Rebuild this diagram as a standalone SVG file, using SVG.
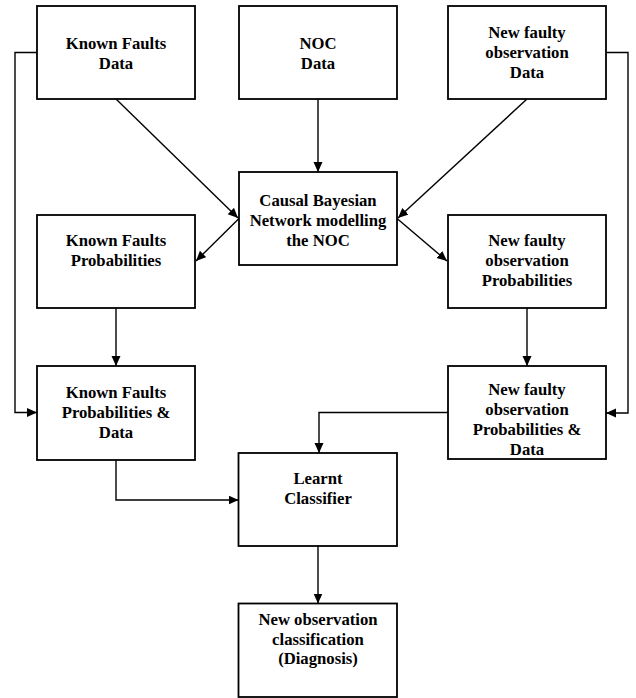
<svg xmlns="http://www.w3.org/2000/svg" width="636" height="698" viewBox="0 0 636 698">
<style>
.box{fill:#fff;stroke:#000;stroke-width:1.8}
.lbl{font-family:"Liberation Serif","Times New Roman",serif;font-weight:bold;font-size:16.7px;fill:#000;text-anchor:middle}
.con{fill:none;stroke:#000;stroke-width:1.4}
</style>
<defs>
<marker id="ah" markerUnits="userSpaceOnUse" markerWidth="11" markerHeight="10" refX="10" refY="4.5" orient="auto">
<path d="M0,0 L10,4.5 L0,9 z" fill="#000"/>
</marker>
</defs>
<rect width="636" height="698" fill="#fff"/>
<g id="connectors">
<path class="con" d="M116,99 L238,218" marker-end="url(#ah)"/>
<path class="con" d="M318,99 L318,172" marker-end="url(#ah)"/>
<path class="con" d="M527,99 L398,218" marker-end="url(#ah)"/>
<path class="con" d="M239,218.5 L196,261" marker-end="url(#ah)"/>
<path class="con" d="M397,218.5 L447,261" marker-end="url(#ah)"/>
<path class="con" d="M116,308 L116,366" marker-end="url(#ah)"/>
<path class="con" d="M527,308 L527,366" marker-end="url(#ah)"/>
<path class="con" d="M37,52.5 L15,52.5 L15,412.5 L37,412.5" marker-end="url(#ah)"/>
<path class="con" d="M606,52.5 L628,52.5 L628,413 L606,413" marker-end="url(#ah)"/>
<path class="con" d="M448,412.5 L319,412.5 L319,453" marker-end="url(#ah)"/>
<path class="con" d="M116,460 L116,500 L238.5,500" marker-end="url(#ah)"/>
<path class="con" d="M318,546 L318,603.5" marker-end="url(#ah)"/>
</g>
<g id="known-faults-data">
<rect class="box" x="37" y="6" width="158" height="93"/>
<text class="lbl" x="116" y="49">Known Faults</text>
<text class="lbl" x="116" y="69">Data</text>
</g>
<g id="noc-data">
<rect class="box" x="239" y="6" width="158" height="93"/>
<text class="lbl" x="318" y="49">NOC</text>
<text class="lbl" x="318" y="69">Data</text>
</g>
<g id="new-faulty-data">
<rect class="box" x="448" y="6" width="158" height="93"/>
<text class="lbl" x="527" y="38">New faulty</text>
<text class="lbl" x="527" y="58">observation</text>
<text class="lbl" x="527" y="78">Data</text>
</g>
<g id="causal-bn">
<rect class="box" x="239" y="172" width="158" height="93"/>
<text class="lbl" x="318" y="206">Causal Bayesian</text>
<text class="lbl" x="318" y="226">Network modelling</text>
<text class="lbl" x="318" y="246">the NOC</text>
</g>
<g id="known-faults-prob">
<rect class="box" x="37" y="215" width="158" height="93"/>
<text class="lbl" x="116" y="246">Known Faults</text>
<text class="lbl" x="116" y="266">Probabilities</text>
</g>
<g id="new-faulty-prob">
<rect class="box" x="448" y="215" width="158" height="93"/>
<text class="lbl" x="527" y="246">New faulty</text>
<text class="lbl" x="527" y="266">observation</text>
<text class="lbl" x="527" y="286">Probabilities</text>
</g>
<g id="known-faults-prob-data">
<rect class="box" x="37" y="366" width="158" height="94"/>
<text class="lbl" x="116" y="398">Known Faults</text>
<text class="lbl" x="116" y="418">Probabilities &amp;</text>
<text class="lbl" x="116" y="438">Data</text>
</g>
<g id="new-faulty-prob-data">
<rect class="box" x="448" y="366" width="158" height="93"/>
<text class="lbl" x="527" y="395">New faulty</text>
<text class="lbl" x="527" y="415">observation</text>
<text class="lbl" x="527" y="435">Probabilities &amp;</text>
<text class="lbl" x="527" y="455">Data</text>
</g>
<g id="learnt-classifier">
<rect class="box" x="238.5" y="453" width="158.5" height="93"/>
<text class="lbl" x="318" y="484">Learnt</text>
<text class="lbl" x="318" y="504">Classifier</text>
</g>
<g id="new-observation-classification">
<rect class="box" x="238.5" y="603.5" width="158.5" height="93.5"/>
<text class="lbl" x="318" y="625">New observation</text>
<text class="lbl" x="318" y="644.5">classification</text>
<text class="lbl" x="318" y="664">(Diagnosis)</text>
</g>
</svg>
